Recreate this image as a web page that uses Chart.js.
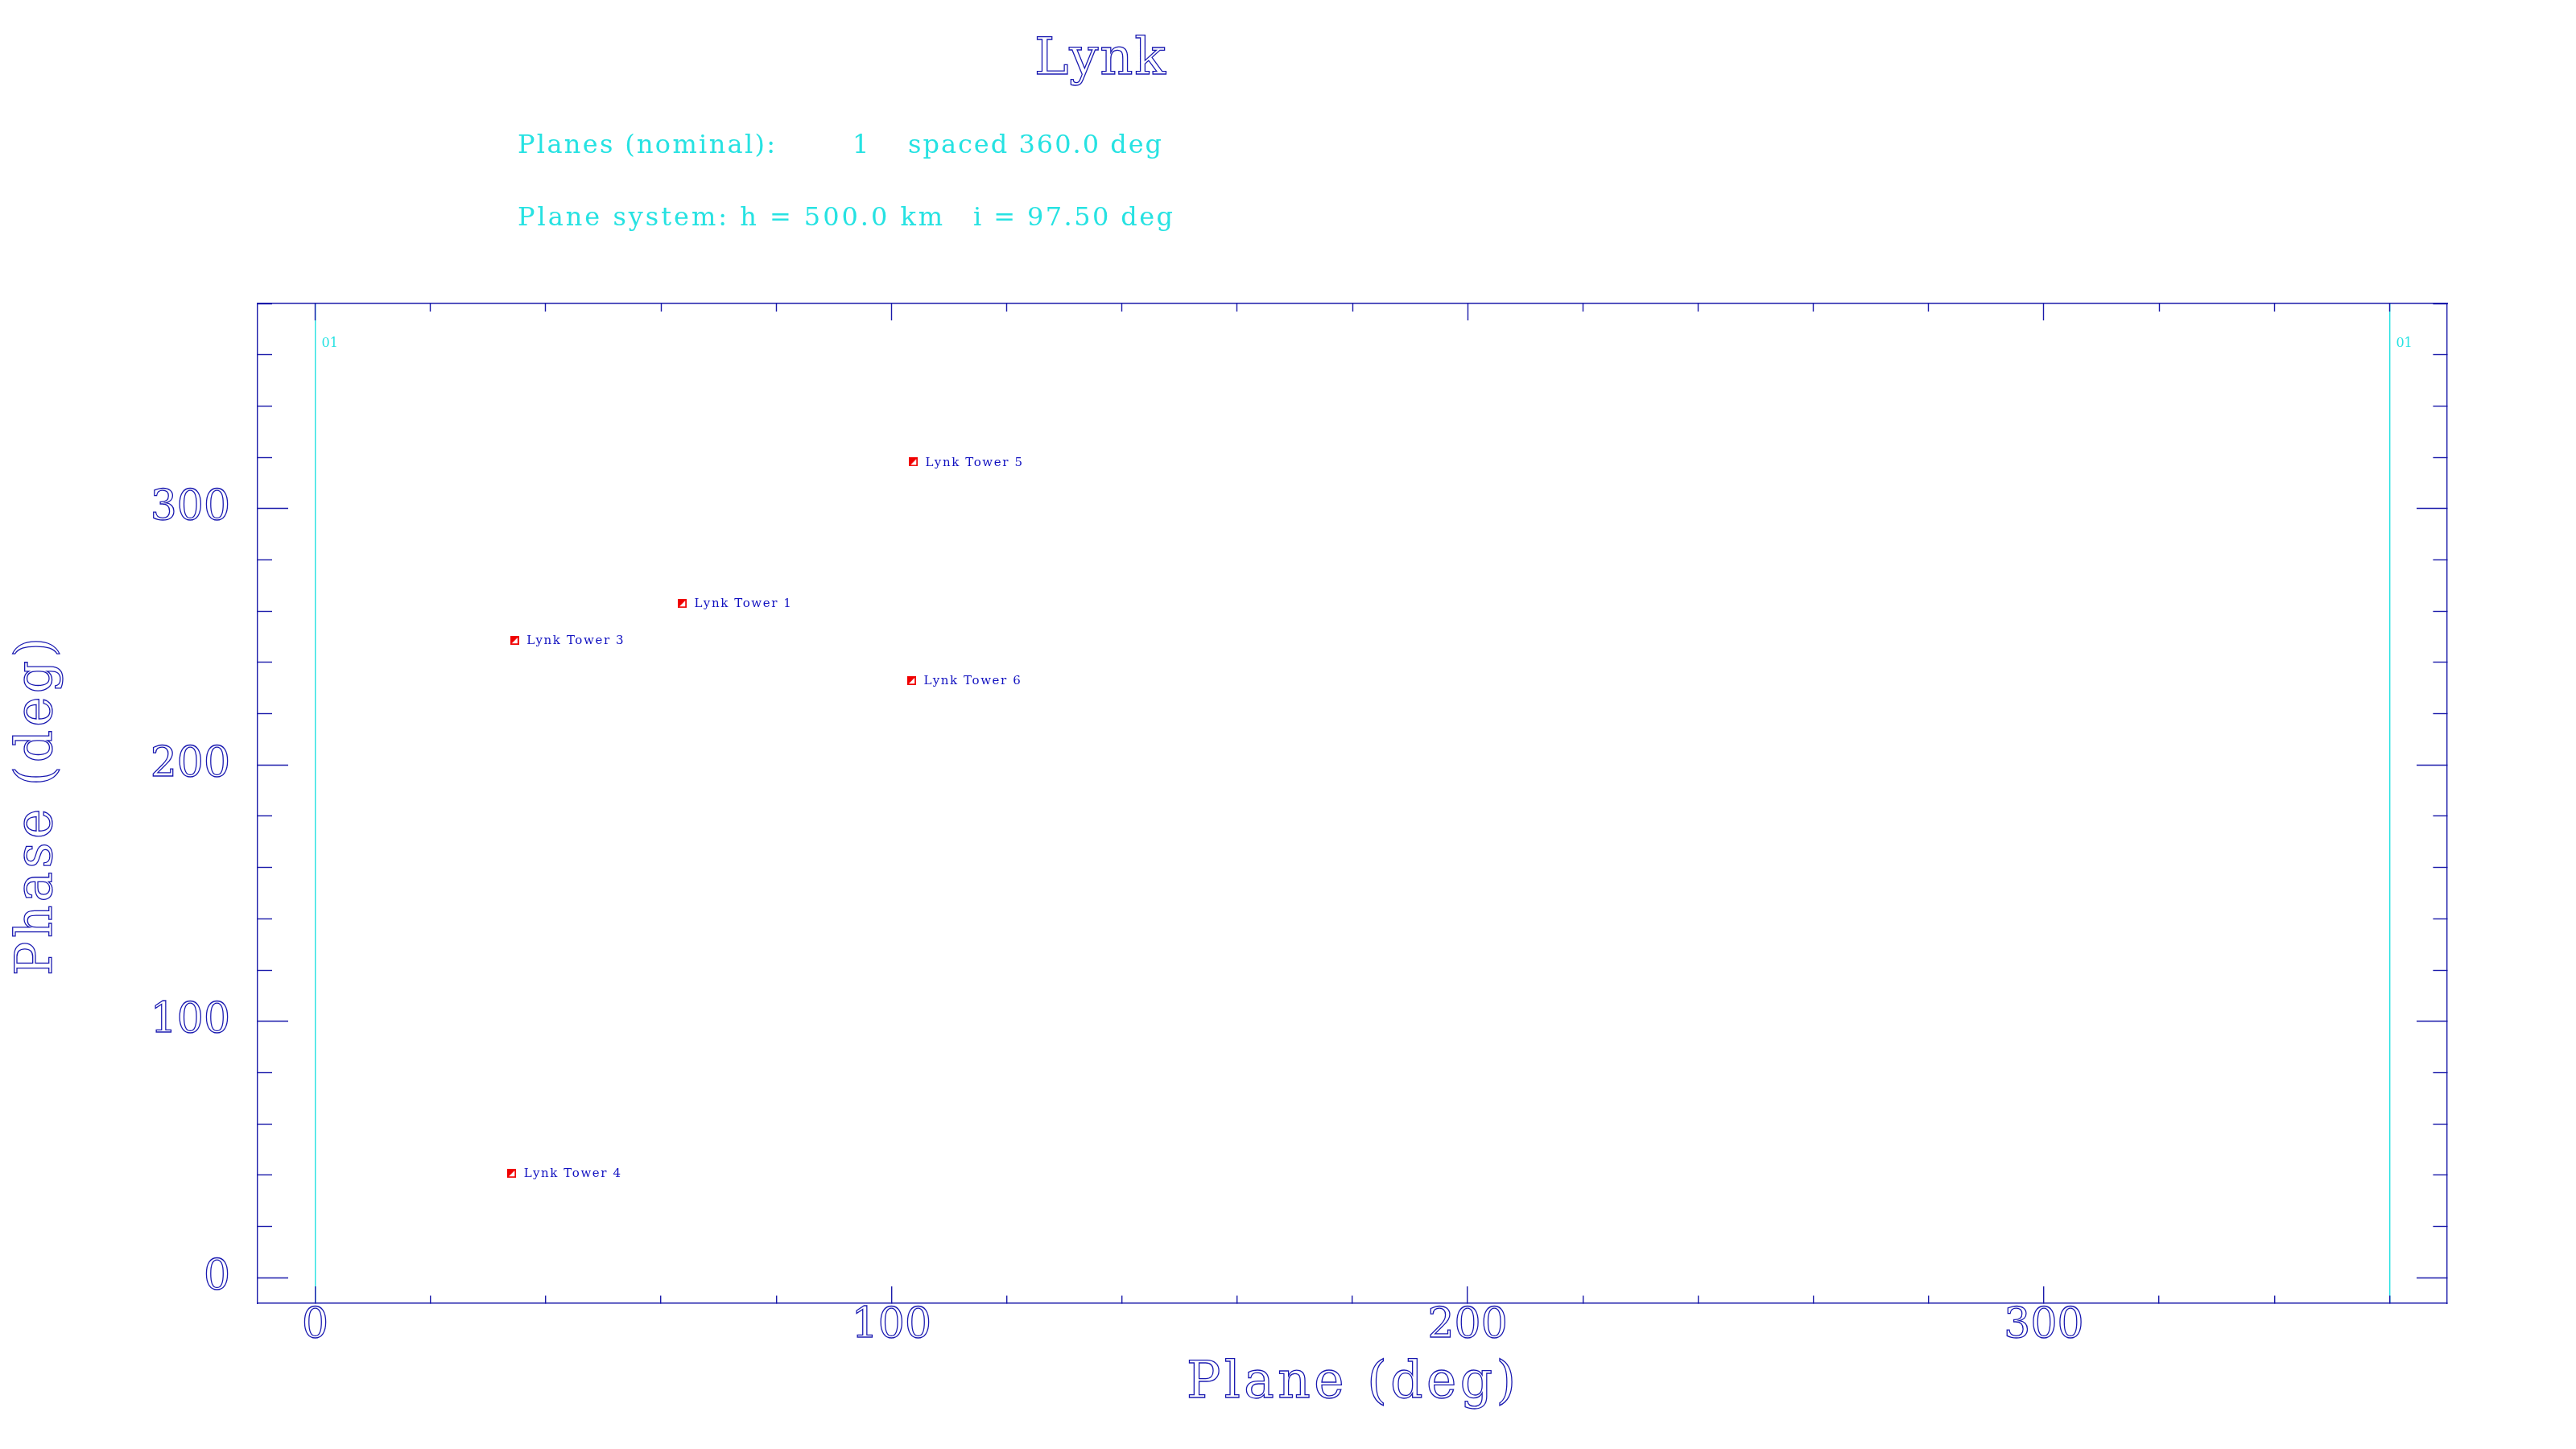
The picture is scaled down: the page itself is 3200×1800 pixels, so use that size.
<!DOCTYPE html>
<html>
<head>
<meta charset="utf-8">
<script src="https://cdn.jsdelivr.net/npm/chart.js@4.4.1/dist/chart.umd.min.js"></script>
<style>
html,body{margin:0;padding:0;background:#ffffff;}
#wrap{width:3200px;height:1800px;position:relative;}
</style>
</head>
<body>
<div id="wrap"><canvas id="c" width="3200" height="1800"></canvas></div>
<script>
// ---- data ----
const satNames = ['Lynk Tower 1', 'Lynk Tower 3', 'Lynk Tower 4', 'Lynk Tower 5', 'Lynk Tower 6'];
const planeDeg = [63.7, 34.6, 34.1, 103.8, 103.5];
const phaseDeg = [263.0, 248.6, 40.7, 318.2, 232.9];
const planeLines = [0, 360];
const planeLineLabels = ['01', '01'];
const xTickValues = [0, 20, 40, 60, 80, 100, 120, 140, 160, 180, 200, 220, 240, 260, 280, 300, 320, 340, 360];
const yTickValues = [0, 20, 40, 60, 80, 100, 120, 140, 160, 180, 200, 220, 240, 260, 280, 300, 320, 340, 360, 380];
const majorTickLabels = [0, 100, 200, 300];
const chartTitle = 'Lynk';
const infoLine1 = ['Planes (nominal):', '1', 'spaced 360.0 deg'];
const infoLine2 = ['Plane system: h = 500.0 km', 'i = 97.50 deg'];
const xTitle = 'Plane (deg)';
const yTitle = 'Phase (deg)';

// ---- styles ----
const FONT = "'DejaVu Serif'";
const AXIS = '#1a1aaa';
const TEXT = '#1818b0';
const LABEL = '#1010c0';
const CYAN = '#26e2e2';
const RED = '#f00000';

function isMajor(v) { return majorTickLabels.includes(v); }
function dashFn(minorLen, fromInner, len) {
  return ctx => {
    const v = ctx.tick ? ctx.tick.value : null;
    if (v === null || isMajor(v)) return [];
    return fromInner ? [minorLen, len - minorLen] : [minorLen, 1000];
  };
}
function dashOffFn(minorLen, fromInner) {
  return ctx => {
    const v = ctx.tick ? ctx.tick.value : null;
    if (v === null || isMajor(v)) return 0;
    return fromInner ? minorLen : 0;
  };
}

// marker: red square, lower-right half white
const marker = document.createElement('canvas');
marker.width = 11; marker.height = 11;
(function () {
  const m = marker.getContext('2d');
  m.fillStyle = RED;
  m.fillRect(0, 0, 11, 11);
  m.fillStyle = '#ffffff';
  m.beginPath();
  m.moveTo(2, 9.2); m.lineTo(9.2, 9.2); m.lineTo(9.2, 2); m.closePath();
  m.fill();
})();

function drawFit(ctx, text, x, y, size, targetW, opt) {
  ctx.save();
  ctx.font = size + 'px ' + FONT;
  if ('letterSpacing' in ctx) ctx.letterSpacing = '0px';
  const w = ctx.measureText(text).width;
  ctx.translate(x, y);
  if (opt.rotate) ctx.rotate(opt.rotate);
  ctx.textAlign = 'left';
  ctx.textBaseline = 'alphabetic';
  if (targetW) {
    const n = text.length;
    if ('letterSpacing' in ctx && n > 1) {
      ctx.letterSpacing = ((targetW - w) / (n - 1)).toFixed(2) + 'px';
    } else {
      ctx.scale(targetW / w, 1);
    }
  }
  if (opt.stroke) {
    ctx.strokeStyle = opt.color;
    ctx.lineWidth = opt.lineWidth || 1.3;
    ctx.strokeText(text, 0, 0);
  } else {
    ctx.fillStyle = opt.color;
    ctx.fillText(text, 0, 0);
  }
  ctx.restore();
}

const textPlugin = {
  id: 'textPlugin',
  afterDatasetsDraw(chart) {
    const ctx = chart.ctx;
    const meta = chart.getDatasetMeta(0);
    meta.data.forEach((el, i) => {
      ctx.save();
      ctx.font = '15px ' + FONT;
      if ('letterSpacing' in ctx) ctx.letterSpacing = '1.6px';
      ctx.fillStyle = LABEL;
      ctx.textAlign = 'left';
      ctx.textBaseline = 'middle';
      ctx.fillText(satNames[i], el.x + 15, el.y + 1);
      ctx.restore();
    });
    const xs = chart.scales.x;
    const top = chart.chartArea.top;
    planeLines.forEach((v, i) => {
      ctx.save();
      ctx.font = '16px ' + FONT;
      ctx.fillStyle = CYAN;
      ctx.textAlign = 'left';
      ctx.textBaseline = 'alphabetic';
      ctx.fillText(planeLineLabels[i], xs.getPixelForValue(v) + 8, top + 54);
      ctx.restore();
    });
  },
  afterDraw(chart) {
    const ctx = chart.ctx;
    drawFit(ctx, chartTitle, 1285, 92, 64, 163, {stroke: true, color: TEXT});
    drawFit(ctx, infoLine1[0], 643, 190, 32, 320, {color: CYAN});
    drawFit(ctx, infoLine1[1], 1059, 190, 32, 0, {color: CYAN});
    drawFit(ctx, infoLine1[2], 1128, 190, 32, 315, {color: CYAN});
    drawFit(ctx, infoLine2[0], 643, 280, 32, 528, {color: CYAN});
    drawFit(ctx, infoLine2[1], 1209, 280, 32, 248, {color: CYAN});
    drawFit(ctx, xTitle, 1474, 1736, 63, 409, {stroke: true, color: TEXT});
    drawFit(ctx, yTitle, 64, 1212, 63, 420, {stroke: true, color: TEXT, rotate: -Math.PI / 2});
  }
};

const commonTickFont = {family: FONT, size: 52};

new Chart(document.getElementById('c'), {
  type: 'scatter',
  data: {
    datasets: [{
      label: 'Satellites',
      data: planeDeg.map((p, i) => ({x: p, y: phaseDeg[i]})),
      pointStyle: marker,
      pointRadius: 6,
      pointHoverRadius: 6
    }]
  },
  options: {
    responsive: false,
    animation: false,
    devicePixelRatio: 1,
    layout: {padding: {top: 377, left: 0, right: 0, bottom: 0}},
    plugins: {legend: {display: false}, title: {display: false}, tooltip: {enabled: false}},
    events: [],
    scales: {
      x: {
        type: 'linear', position: 'bottom', min: -10, max: 370,
        afterBuildTicks: s => { s.ticks = xTickValues.map(v => ({value: v})); },
        afterFit: s => { s.height = 181; },
        ticks: {
          autoSkip: false, maxRotation: 0, padding: 18, font: commonTickFont,
          color: 'rgba(0,0,0,0)', textStrokeColor: TEXT, textStrokeWidth: 1.3,
          callback: v => isMajor(v) ? String(v) : ''
        },
        grid: {
          drawOnChartArea: true,
          color: ctx => (ctx.tick && planeLines.includes(ctx.tick.value)) ? CYAN : 'rgba(0,0,0,0)',
          lineWidth: 1.4,
          drawTicks: true, tickLength: -21, tickColor: AXIS, tickWidth: 1.4,
          tickBorderDash: dashFn(10, false, 21), tickBorderDashOffset: dashOffFn(10, false)
        },
        border: {display: true, color: AXIS, width: 1.4}
      },
      xTop: {
        type: 'linear', position: 'top', min: -10, max: 370,
        afterBuildTicks: s => { s.ticks = xTickValues.map(v => ({value: v})); },
        afterFit: s => { s.height = 0; },
        ticks: {display: false, autoSkip: false},
        grid: {
          drawOnChartArea: false,
          drawTicks: true, tickLength: -21, tickColor: AXIS, tickWidth: 1.4,
          tickBorderDash: dashFn(10, true, 21), tickBorderDashOffset: dashOffFn(10, true)
        },
        border: {display: true, color: AXIS, width: 1.4}
      },
      y: {
        type: 'linear', position: 'left', min: -10, max: 380,
        afterBuildTicks: s => { s.ticks = yTickValues.map(v => ({value: v})); },
        afterFit: s => { s.width = 320; },
        ticks: {
          autoSkip: false, padding: 72, font: commonTickFont,
          color: 'rgba(0,0,0,0)', textStrokeColor: TEXT, textStrokeWidth: 1.3,
          callback: v => isMajor(v) ? String(v) : ''
        },
        grid: {
          drawOnChartArea: false,
          drawTicks: true, tickLength: -38, tickColor: AXIS, tickWidth: 1.4,
          tickBorderDash: dashFn(18, true, 38), tickBorderDashOffset: dashOffFn(18, true)
        },
        border: {display: true, color: AXIS, width: 1.4}
      },
      yRight: {
        type: 'linear', position: 'right', min: -10, max: 380,
        afterBuildTicks: s => { s.ticks = yTickValues.map(v => ({value: v})); },
        afterFit: s => { s.width = 160; },
        ticks: {display: false, autoSkip: false},
        grid: {
          drawOnChartArea: false,
          drawTicks: true, tickLength: -38, tickColor: AXIS, tickWidth: 1.4,
          tickBorderDash: dashFn(18, false, 38), tickBorderDashOffset: dashOffFn(18, false)
        },
        border: {display: true, color: AXIS, width: 1.4}
      }
    }
  },
  plugins: [textPlugin]
});
</script>
</body>
</html>
